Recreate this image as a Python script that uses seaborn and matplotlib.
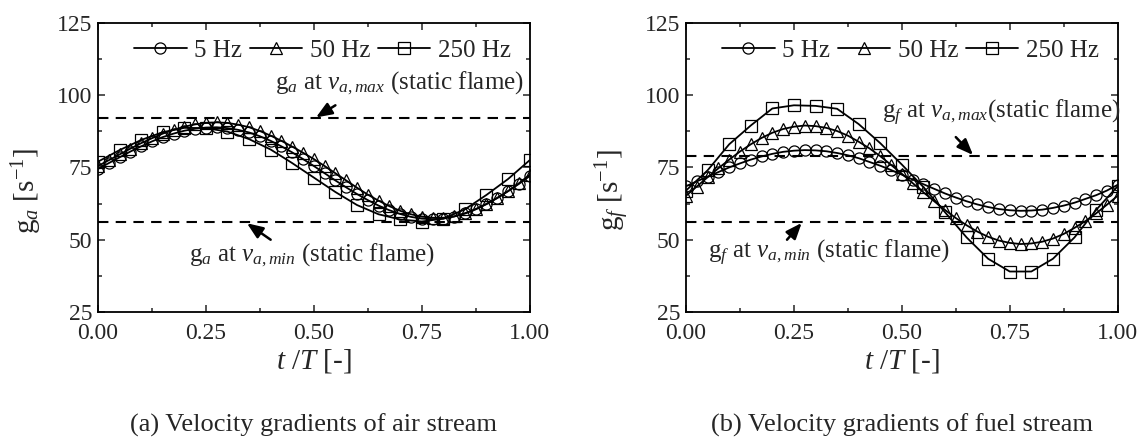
import matplotlib
matplotlib.use("Agg")
import matplotlib.pyplot as plt
from matplotlib.ticker import MultipleLocator
import pandas as pd
import seaborn as sns

# ---------------- data ----------------
t41 = [0.000, 0.025, 0.050, 0.075, 0.100, 0.125, 0.150, 0.175, 0.200, 0.225,
       0.250, 0.275, 0.300, 0.325, 0.350, 0.375, 0.400, 0.425, 0.450, 0.475,
       0.500, 0.525, 0.550, 0.575, 0.600, 0.625, 0.650, 0.675, 0.700, 0.725,
       0.750, 0.775, 0.800, 0.825, 0.850, 0.875, 0.900, 0.925, 0.950, 0.975, 1.000]
t21 = [0.00, 0.05, 0.10, 0.15, 0.20, 0.25, 0.30, 0.35, 0.40, 0.45, 0.50,
       0.55, 0.60, 0.65, 0.70, 0.75, 0.80, 0.85, 0.90, 0.95, 1.00]

# (a) air stream velocity gradient g_a
ga_5hz = [74.5, 76.5, 78.5, 80.5, 82.3, 84.0, 85.5, 86.7, 87.7, 88.4,
          88.8, 88.9, 88.6, 88.0, 87.1, 85.8, 84.2, 82.3, 80.2, 77.9,
          75.5, 73.0, 70.5, 68.1, 65.8, 63.7, 61.8, 60.2, 58.9, 57.9,
          57.3, 57.1, 57.3, 58.0, 59.1, 60.6, 62.4, 64.5, 66.8, 69.3, 72.0]
ga_50hz = [75.5, 77.5, 79.5, 81.5, 83.4, 85.1, 86.7, 88.0, 89.1, 89.9,
           90.4, 90.6, 90.4, 89.8, 88.9, 87.6, 86.0, 84.2, 82.2, 80.1,
           77.9, 75.5, 73.0, 70.5, 68.0, 65.6, 63.5, 61.6, 60.0, 58.8,
           58.0, 57.6, 57.6, 58.1, 59.1, 60.5, 62.3, 64.4, 66.8, 69.5, 72.5]
ga_250hz = [77.0, 81.0, 84.5, 87.2, 88.7, 88.6, 87.4, 84.8, 81.2, 76.5, 71.5,
            66.5, 62.0, 58.8, 57.0, 56.3, 57.3, 60.5, 65.5, 71.0, 77.5]

# (b) fuel stream velocity gradient g_f
gf_5hz = [68.5, 70.2, 71.8, 73.4, 75.0, 76.4, 77.7, 78.8, 79.7, 80.4,
          80.8, 81.0, 80.9, 80.6, 80.0, 79.2, 78.2, 76.9, 75.6, 74.1,
          72.5, 70.8, 69.2, 67.6, 66.0, 64.6, 63.3, 62.2, 61.3, 60.6,
          60.2, 60.0, 60.1, 60.4, 61.0, 61.8, 62.8, 64.1, 65.4, 67.0, 69.0]
gf_50hz = [65.2, 68.4, 71.6, 74.7, 77.7, 80.5, 83.0, 85.2, 87.0, 88.3,
           89.1, 89.5, 89.3, 88.7, 87.6, 86.0, 83.9, 81.6, 78.9, 75.9,
           72.8, 69.6, 66.4, 63.3, 60.3, 57.5, 55.0, 52.8, 51.0, 49.7,
           48.9, 48.5, 48.7, 49.3, 50.4, 52.0, 54.1, 56.4, 59.1, 62.1, 65.2]
gf_250hz = [67.0, 74.0, 83.0, 89.5, 95.4, 96.5, 96.3, 95.3, 90.0, 83.4, 76.0,
            68.2, 59.5, 50.8, 43.4, 39.0, 39.0, 43.4, 50.8, 60.3, 68.5]

# static-flame reference levels
ga_static = [92.0, 56.0]
gf_static = [79.0, 56.0]

series_labels = ["5 Hz", "50 Hz", "250 Hz"]
series_markers = ["o", "^", "s"]
xticks = [0.00, 0.25, 0.50, 0.75, 1.00]
xtick_labels = ["0.00", "0.25", "0.50", "0.75", "1.00"]
yticks = [25, 50, 75, 100, 125]

# ---------------- style ----------------
sns.set_theme(style="ticks")
plt.rcParams["font.family"] = ["Liberation Serif", "DejaVu Serif"]
plt.rcParams["mathtext.fontset"] = "custom"
plt.rcParams["mathtext.rm"] = "Liberation Serif"
plt.rcParams["mathtext.it"] = "Liberation Serif:italic"
plt.rcParams["mathtext.bf"] = "Liberation Serif:bold"
plt.rcParams["axes.linewidth"] = 1.3

fig = plt.figure(figsize=(11.42, 4.38), dpi=100)
ax_a = fig.add_axes([0.0858, 0.2877, 0.378, 0.660])
ax_b = fig.add_axes([0.6007, 0.2877, 0.378, 0.660])


def draw_panel(ax, ys, xs_list, static, sub):
    for y, xs, lab, mk in zip(ys, xs_list, series_labels, series_markers):
        df = pd.DataFrame({"t": xs, "g": y})
        sns.lineplot(data=df, x="t", y="g", ax=ax, color="black", lw=1.3,
                     marker=mk, markersize=8, markerfacecolor="none",
                     markeredgecolor="black", markeredgewidth=0.9,
                     label=lab, sort=False)
    for lev in static:
        ax.axhline(lev, color="black", lw=1.5, ls=(0, (5, 3.5)), zorder=1)
    ax.set_xlim(0, 1)
    ax.set_ylim(25, 125)
    ax.set_xticks(xticks)
    ax.set_xticklabels(xtick_labels)
    ax.set_yticks(yticks)
    ax.xaxis.set_minor_locator(MultipleLocator(0.125))
    ax.yaxis.set_minor_locator(MultipleLocator(12.5))
    ax.tick_params(which="both", direction="in", top=True, right=True,
                   labelsize=17, width=1.1)
    ax.tick_params(axis="x", which="both", pad=8)
    ax.tick_params(axis="y", which="both", pad=4)
    ax.tick_params(which="major", length=5)
    ax.tick_params(which="minor", length=3)
    ax.set_xlabel(r"$t$ /$T$ [-]", fontsize=21)
    ax.set_ylabel(r"$\mathrm{g}_{%s}$ [s$^{\mathrm{-1}}$]" % sub, fontsize=21)
    ax.yaxis.set_label_coords(-0.125, 0.42)
    ax.xaxis.set_label_coords(0.5, -0.12)
    ax.legend(loc="upper center", bbox_to_anchor=(0.52, 1.0), ncol=3,
              frameon=False, fontsize=18, handlelength=2.1,
              handletextpad=0.3, columnspacing=0.3, borderaxespad=0.25)
    for s in ax.spines.values():
        s.set_color("black")


draw_panel(ax_a, [ga_5hz, ga_50hz, ga_250hz], [t41, t41, t21], ga_static, "a")
draw_panel(ax_b, [gf_5hz, gf_50hz, gf_250hz], [t41, t41, t21], gf_static, "f")

arrow_kw = dict(arrowstyle="-|>,head_length=0.8,head_width=0.32", color="black",
                lw=1.8, shrinkA=0, shrinkB=0)

# annotations panel (a)
ax_a.text(0.41, 104, r"$\mathrm{g}_{a}$ at $v_{a,max}$ (static flame)",
          fontsize=18, va="center", ha="left")
ax_a.annotate("", xy=(0.505, 92.3), xytext=(0.55, 96.5), arrowprops=arrow_kw)
ax_a.text(0.21, 44.5, r"$\mathrm{g}_{a}$ at $v_{a,min}$ (static flame)",
          fontsize=18, va="center", ha="left")
ax_a.annotate("", xy=(0.345, 55.7), xytext=(0.40, 50.0), arrowprops=arrow_kw)

# annotations panel (b)
ax_b.text(0.455, 94, r"$\mathrm{g}_{f}$ at $v_{a,max}$(static flame)",
          fontsize=18, va="center", ha="left")
ax_b.annotate("", xy=(0.665, 79.3), xytext=(0.625, 85.5), arrowprops=arrow_kw)
ax_b.text(0.05, 45.5, r"$\mathrm{g}_{f}$ at $v_{a,min}$ (static flame)",
          fontsize=18, va="center", ha="left")
ax_b.annotate("", xy=(0.268, 55.8), xytext=(0.234, 50.0), arrowprops=arrow_kw)

# captions
fig.text(0.0858 + 0.378 / 2, 0.03, "(a) Velocity gradients of air stream",
         ha="center", va="center", fontsize=19)
fig.text(0.6007 + 0.378 / 2, 0.03, "(b) Velocity gradients of fuel stream",
         ha="center", va="center", fontsize=19)

fig.savefig("out.png", dpi=100)
